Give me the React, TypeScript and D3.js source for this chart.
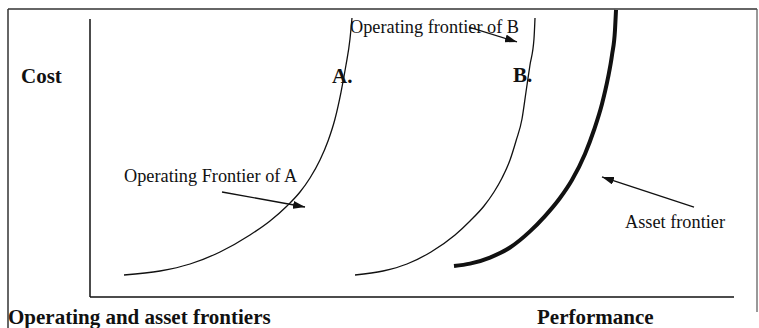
import React from "react";
import * as d3 from "d3";

// Performance (x) and cost (y) in relative units 0..100
const frontierA: [number, number][] = [
  [5.28, 7.91], [10.87, 9.35], [15.53, 11.87], [20.19, 16.19], [24.84, 22.3], [27.95, 27.34],
  [30.59, 32.73], [32.61, 37.77], [34.16, 42.81], [35.71, 49.28], [36.96, 56.12], [38.04, 64.03],
  [38.98, 73.74], [39.75, 83.45], [40.37, 92.81], [40.68, 100.36],
];
const frontierB: [number, number][] = [
  [41.15, 7.91], [45.5, 9.35], [49.22, 11.87], [52.95, 16.19], [56.68, 22.3], [59.01, 27.34],
  [61.18, 32.73], [62.73, 37.77], [63.98, 42.81], [65.22, 49.28], [66.15, 56.12], [67.08, 64.03],
  [67.7, 73.74], [68.32, 83.45], [68.94, 92.81], [69.1, 100.36],
];
const assetFrontier: [number, number][] = [
  [56.52, 11.15], [59.01, 12.0], [62.11, 14.2], [65.22, 17.8], [68.32, 23.6], [70.65, 29.1],
  [72.98, 35.6], [74.84, 42.09], [76.86, 51.44], [78.26, 60.07], [79.5, 69.42], [80.43, 78.78],
  [81.06, 87.05], [81.52, 96.04], [81.68, 103.24],
];
// annotation arrows: [fromX, fromY, toX, toY]
const arrows: [number, number, number, number][] = [
  [20.5, 37.77, 33.39, 32.37],
  [58.85, 97.12, 66.3, 91.73],
  [93.79, 32.37, 79.5, 43.17],
];
const labels = {
  cost: "Cost",
  perf: "Performance",
  title: "Operating and asset frontiers",
  a: "A.",
  b: "B.",
  opA: "Operating Frontier of A",
  opB: "Operating frontier of B",
  asset: "Asset frontier",
};

export default function App() {
  const W = 759, H = 328;
  const x = d3.scaleLinear().domain([0, 100]).range([90, 734]);
  const y = d3.scaleLinear().domain([0, 100]).range([297, 19]);
  const line = d3
    .line<[number, number]>()
    .x((d) => x(d[0]))
    .y((d) => y(d[1]))
    .curve(d3.curveMonotoneX);
  const serif = "'Liberation Serif', 'Times New Roman', serif";
  const ink = "#111";
  return (
    <svg
      width={W}
      height={H}
      style={{ position: "absolute", left: 0, top: 0, background: "#fff" }}
      fontFamily={serif}
    >
      <defs>
        <marker id="ah" viewBox="0 0 12 8" refX="12" refY="4" markerWidth="12" markerHeight="8" markerUnits="userSpaceOnUse" orient="auto">
          <path d="M0,0 L12,4 L0,8 Z" fill={ink} />
        </marker>
      </defs>
      {/* frame */}
      <line x1={8} y1={9} x2={757} y2={9} stroke="#333" strokeWidth={1.5} />
      <line x1={8} y1={9} x2={8} y2={328} stroke="#333" strokeWidth={1.5} />
      <line x1={757} y1={9} x2={757} y2={312} stroke="#555" strokeWidth={1.2} />
      {/* axes */}
      <line x1={x(0)} y1={y(100)} x2={x(0)} y2={y(0)} stroke={ink} strokeWidth={1.5} />
      <line x1={x(0)} y1={y(0)} x2={x(100)} y2={y(0)} stroke={ink} strokeWidth={1.5} />
      {/* curves */}
      <path d={line(frontierA) || ""} fill="none" stroke={ink} strokeWidth={1.3} />
      <path d={line(frontierB) || ""} fill="none" stroke={ink} strokeWidth={1.3} />
      <path d={line(assetFrontier) || ""} fill="none" stroke={ink} strokeWidth={4} />
      {/* arrows */}
      {arrows.map((a, i) => (
        <line key={i} x1={x(a[0])} y1={y(a[1])} x2={x(a[2])} y2={y(a[3])} stroke={ink} strokeWidth={1.3} markerEnd="url(#ah)" />
      ))}
      {/* texts */}
      <text x={21} y={83} fontSize={21} fontWeight="bold" fill={ink}>{labels.cost}</text>
      <text x={332} y={83} fontSize={21} fontWeight="bold" fill={ink}>{labels.a}</text>
      <text x={513} y={82} fontSize={21} fontWeight="bold" fill={ink}>{labels.b}</text>
      <text x={350} y={33} fontSize={18.3} fill={ink}>{labels.opB}</text>
      <text x={124} y={182} fontSize={18.3} fill={ink}>{labels.opA}</text>
      <text x={625} y={228} fontSize={18.3} fill={ink}>{labels.asset}</text>
      <text x={537} y={324} fontSize={21} fontWeight="bold" fill={ink}>{labels.perf}</text>
      <text x={8} y={324} fontSize={21} fontWeight="bold" fill={ink}>{labels.title}</text>
    </svg>
  );
}
